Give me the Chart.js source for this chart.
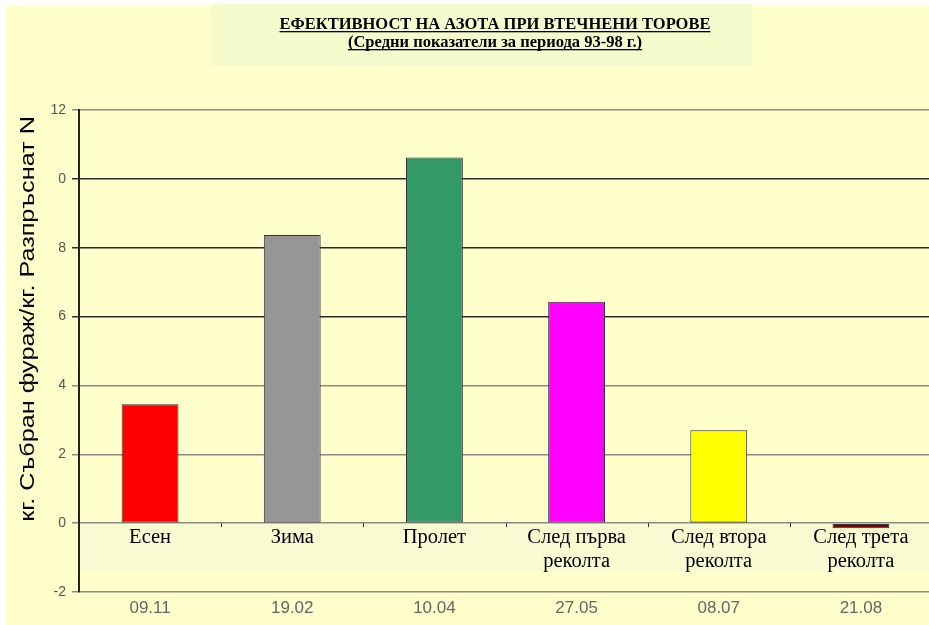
<!DOCTYPE html>
<html>
<head>
<meta charset="UTF-8">
<title>Ефективност на азота</title>
<script src="https://cdn.jsdelivr.net/npm/chart.js"></script>
<style>
html, body { margin:0; padding:0; background:#fff; overflow:hidden; }
#wrap { position:absolute; left:0; top:0; width:940px; height:625px; }
</style>
</head>
<body>
<div id="wrap"><canvas id="myChart"></canvas></div>
<script>
// дати на торене и сезони
var dates = ['09.11', '19.02', '10.04', '27.05', '08.07', '21.08'];
var seasons = [['Есен'], ['Зима'], ['Пролет'], ['След първа', 'реколта'], ['След втора', 'реколта'], ['След трета', 'реколта']];
// кг. събран фураж / кг. разпръснат N
var efficiency = [3.45, 8.37, 10.62, 6.43, 2.7, -0.15];
var barColors = ['#ff0000', '#969696', '#339966', '#ff00ff', '#ffff00', '#800000'];
var yTicks = [-2, 0, 2, 4, 6, 8, 10, 12];

var titleLines = ['ЕФЕКТИВНОСТ НА АЗОТА ПРИ ВТЕЧНЕНИ ТОРОВЕ', '(Средни показатели за периода 93-98 г.)'];
var yTitle = 'кг. Събран фураж/кг. Разпръснат N';

var bgPlugin = {
  id: 'bg',
  beforeDraw: function(chart) {
    var c = chart.ctx;
    c.save();
    c.fillStyle = '#ffffcc';
    c.fillRect(6, 6, chart.width, chart.height);
    // светла лента под нулата
    c.fillStyle = '#f8fbd2';
    c.fillRect(chart.chartArea.left, 524, chart.width, 47);
    c.restore();
  },
  afterDraw: function(chart) {
    var c = chart.ctx, x = chart.scales.x, y = chart.scales.y;
    c.save();
    // кутия на заглавието
    c.fillStyle = '#f6fbcd';
    c.fillRect(211, 4, 541, 62);
    c.fillStyle = '#000';
    c.textAlign = 'center';
    c.textBaseline = 'alphabetic';
    c.font = 'bold 16.5px "Liberation Serif"';
    var cx = 495;
    [[titleLines[0], 29], [titleLines[1], 47]].forEach(function(t) {
      c.fillText(t[0], cx, t[1]);
      var w = c.measureText(t[0]).width;
      c.fillRect(cx - w / 2, t[1] + 2, w, 1.3);
    });

    // заглавие на оста Y
    c.fillStyle = '#ffffcc';
    c.fillRect(10, 140, 48.5, 380);
    c.fillStyle = '#000';
    c.translate(28, 319);
    c.rotate(-Math.PI / 2);
    c.scale(1.2, 1);
    c.font = '21px "Liberation Sans"';
    c.textAlign = 'center';
    c.textBaseline = 'middle';
    c.fillText(yTitle, 0, 0);
    c.restore();

    // сезони под нулевата линия
    c.save();
    var y0 = y.getPixelForValue(0);
    var step = x.getPixelForValue(1) - x.getPixelForValue(0);
    c.strokeStyle = '#333';
    c.lineWidth = 1;
    for (var i = 1; i < dates.length; i++) {
      var bx = Math.round(x.getPixelForValue(i) - step / 2) + 0.5;
      c.beginPath(); c.moveTo(bx, y0); c.lineTo(bx, y0 + 4); c.stroke();
    }
    c.fillStyle = '#000';
    c.font = '20.5px "Liberation Serif"';
    c.textAlign = 'center';
    c.textBaseline = 'middle';
    seasons.forEach(function(lines, i) {
      lines.forEach(function(s, k) {
        c.fillText(s, x.getPixelForValue(i), y0 + 14 + k * 24);
      });
    });
    c.restore();
  }
};

new Chart(document.getElementById('myChart'), {
  type: 'bar',
  data: {
    labels: dates,
    datasets: [{
      data: efficiency,
      backgroundColor: barColors,
      borderColor: '#333',
      borderWidth: 1,
      borderSkipped: false,
      barPercentage: 0.4,
      categoryPercentage: 1
    }]
  },
  plugins: [bgPlugin],
  options: {
    responsive: true,
    maintainAspectRatio: false,
    animation: false,
    layout: { padding: { left: 0, top: 110, right: 8, bottom: 0 } },
    plugins: { legend: { display: false }, tooltip: { enabled: false } },
    scales: {
      x: {
        grid: { display: false },
        border: { display: false },
        ticks: { color: '#666', font: { family: 'Liberation Sans', size: 17 }, padding: -2, maxRotation: 0 },
        afterFit: function(s) { s.height = 33; }
      },
      y: {
        min: -2, max: 12,
        afterBuildTicks: function(s) { s.ticks = yTicks.map(function(v) { return { value: v }; }); },
        border: { color: '#222', width: 2 },
        grid: {
          color: function(ctx) {
            var v = ctx.tick && ctx.tick.value;
            return (v === 6 || v === 8 || v === 10) ? '#2a2a2a' : '#8a8a80';
          },
          lineWidth: 1.5,
          tickLength: 7
        },
        ticks: { color: '#555', font: { family: 'Liberation Sans', size: 14 }, padding: 6 },
        afterFit: function(s) { s.width = 79; }
      }
    }
  }
});
</script>
</body>
</html>
